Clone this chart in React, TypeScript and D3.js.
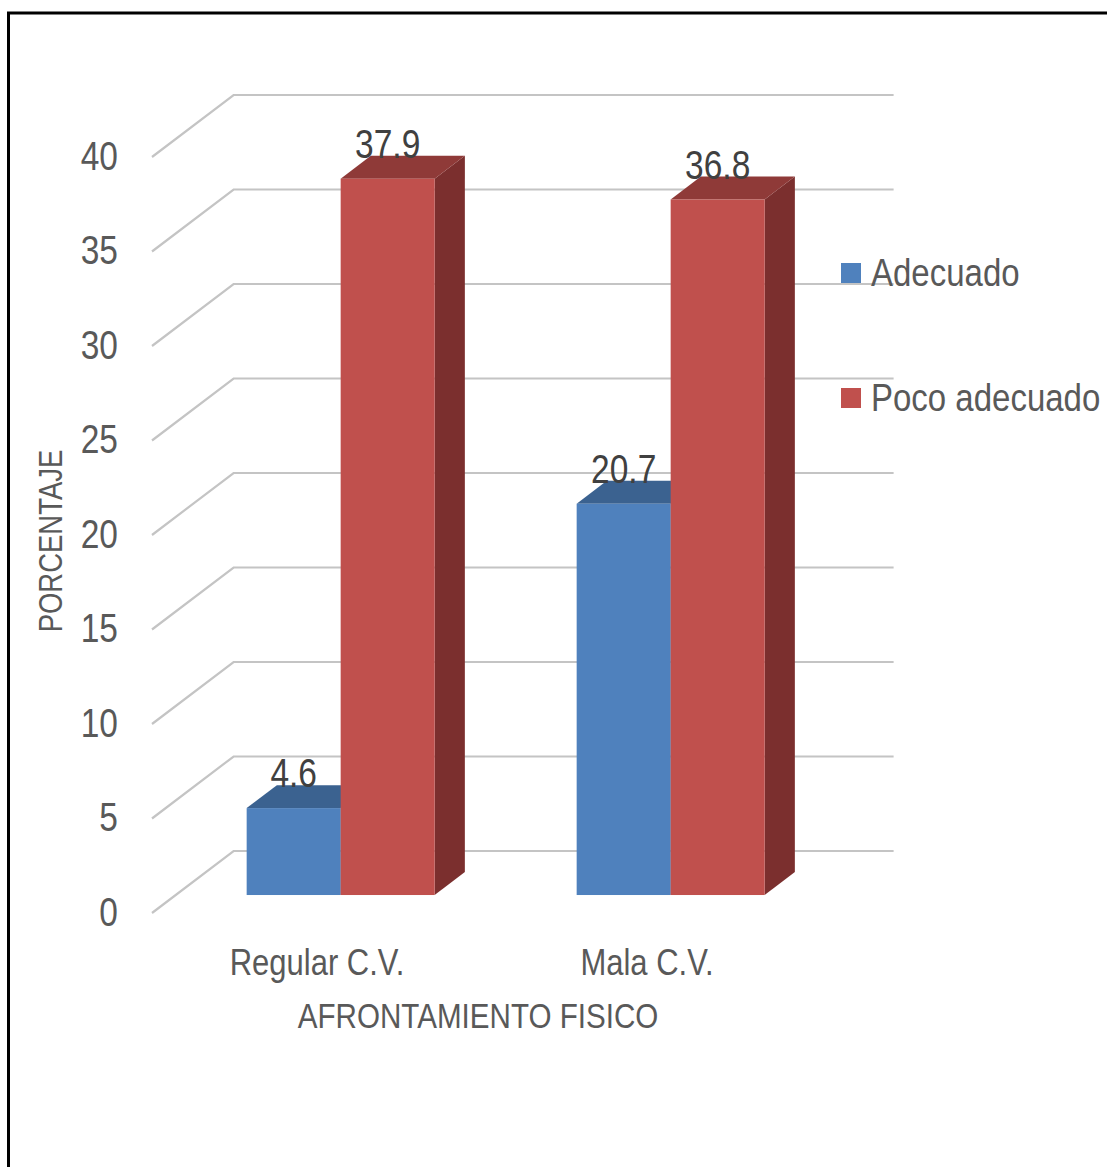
import React from "react";
import * as d3 from "d3";

// Chart data
const categories = ["Regular C.V.", "Mala C.V."];
const seriesNames = ["Adecuado", "Poco adecuado"];
const adecuado = [4.6, 20.7];
const pocoAdecuado = [37.9, 36.8];
const yTicks = [0, 5, 10, 15, 20, 25, 30, 35, 40];

const W = 1107;
const H = 1167;

// Oblique projection: full floor depth vector
const DEPTH_X = 81.6;
const DEPTH_Y = -62;
const BAR_F0 = 0.29; // bar front plane (fraction of depth)
const BAR_F1 = 0.66; // bar back plane

const FONT = "'Liberation Sans', Arial, sans-serif";
const STRETCH = 1.2;

const colors = {
  Adecuado: { front: "#4F81BD", top: "#3B6290", side: "#2F4F78" },
  "Poco adecuado": { front: "#C0504D", top: "#8F3A38", side: "#7B2F2E" },
} as Record<string, { front: string; top: string; side: string }>;

function SText(props: {
  x: number;
  y: number;
  size: number;
  anchor?: string;
  fill?: string;
  rotate?: number;
  children: React.ReactNode;
}) {
  const { x, y, size, anchor = "start", fill = "#595959", rotate = 0, children } = props;
  return (
    <text
      transform={`translate(${x},${y}) rotate(${rotate}) scale(1,${STRETCH})`}
      fontFamily={FONT}
      fontSize={size}
      textAnchor={anchor}
      fill={fill}
    >
      {children}
    </text>
  );
}

export default function App() {
  const y = d3.scaleLinear().domain([0, 40]).range([913, 157]);
  const x = d3.scaleBand<string>().domain(categories).range([152, 812]);
  const groupW = 188;

  const rows = categories.map((c, i) => ({
    category: c,
    values: [
      { name: seriesNames[0], v: adecuado[i] },
      { name: seriesNames[1], v: pocoAdecuado[i] },
    ],
  }));

  const fdx = BAR_F0 * DEPTH_X;
  const fdy = BAR_F0 * DEPTH_Y;
  const ddx = (BAR_F1 - BAR_F0) * DEPTH_X;
  const ddy = (BAR_F1 - BAR_F0) * DEPTH_Y;
  const backRight = 812 + DEPTH_X;

  return (
    <svg
      width={W}
      height={H}
      style={{ position: "absolute", left: 0, top: 0, display: "block" }}
    >
      <rect x={0} y={0} width={W} height={H} fill="#ffffff" />
      <rect x={8.5} y={13} width={W + 20} height={H + 20} fill="none" stroke="#000" strokeWidth={3} />

      {/* walls: gridlines */}
      <g stroke="#C4C4C4" strokeWidth={2.2} fill="none">
        {yTicks.map((t) => (
          <polyline
            key={t}
            points={`152,${y(t)} ${152 + DEPTH_X},${y(t) + DEPTH_Y} ${backRight},${y(t) + DEPTH_Y}`}
          />
        ))}
      </g>

      {/* tick labels */}
      {yTicks.map((t) => (
        <SText key={t} x={118} y={y(t) + 12.5} size={33.5} anchor="end">
          {t}
        </SText>
      ))}

      {/* bars */}
      {rows.map((r) => {
        const cx = (x(r.category) as number) + x.bandwidth() / 2;
        const inner = d3
          .scaleBand<string>()
          .domain(seriesNames)
          .range([cx - groupW / 2, cx + groupW / 2]);
        return (
          <g key={r.category}>
            {r.values.map((d) => {
              const x0 = (inner(d.name) as number) + fdx;
              const x1 = x0 + inner.bandwidth();
              const yb = y(0) + fdy;
              const yt = y(d.v) + fdy;
              const c = colors[d.name];
              return (
                <g key={d.name}>
                  <polygon
                    points={`${x1},${yt} ${x1 + ddx},${yt + ddy} ${x1 + ddx},${yb + ddy} ${x1},${yb}`}
                    fill={c.side}
                  />
                  <polygon
                    points={`${x0},${yt} ${x1},${yt} ${x1 + ddx},${yt + ddy} ${x0 + ddx},${yt + ddy}`}
                    fill={c.top}
                  />
                  <rect x={x0} y={yt} width={x1 - x0} height={yb - yt} fill={c.front} />
                </g>
              );
            })}
          </g>
        );
      })}

      {/* value labels */}
      {rows.map((r) => {
        const cx = (x(r.category) as number) + x.bandwidth() / 2;
        const inner = d3
          .scaleBand<string>()
          .domain(seriesNames)
          .range([cx - groupW / 2, cx + groupW / 2]);
        return r.values.map((d) => {
          const lx = (inner(d.name) as number) + fdx + inner.bandwidth() / 2;
          const ly = y(d.v) + fdy + ddy + 2;
          return (
            <SText key={r.category + d.name} x={lx} y={ly} size={33.5} anchor="middle" fill="#404040">
              {d.v.toFixed(1)}
            </SText>
          );
        });
      })}

      {/* category labels */}
      {categories.map((c) => (
        <SText key={c} x={(x(c) as number) + x.bandwidth() / 2} y={975} size={31} anchor="middle">
          {c}
        </SText>
      ))}

      {/* axis titles */}
      <SText x={478} y={1028} size={29.6} anchor="middle">
        AFRONTAMIENTO FISICO
      </SText>
      <SText x={62} y={541} size={27.5} anchor="middle" rotate={-90}>
        PORCENTAJE
      </SText>

      {/* legend */}
      {seriesNames.map((s, i) => (
        <g key={s}>
          <rect x={841} y={263 + i * 125} width={20} height={20} fill={colors[s].front} />
          <SText x={871} y={286 + i * 125} size={33} anchor="start">
            {s}
          </SText>
        </g>
      ))}
    </svg>
  );
}
